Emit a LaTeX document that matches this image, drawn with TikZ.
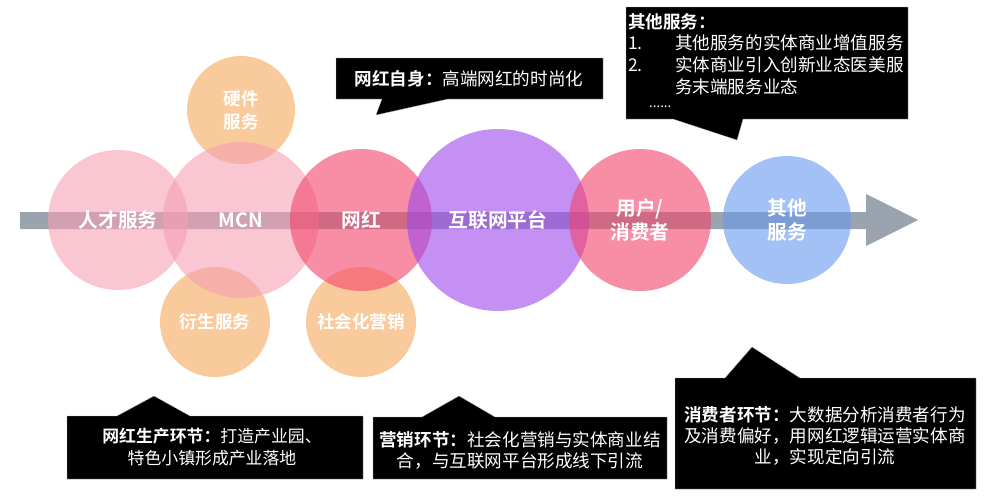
\documentclass[tikz,border=0pt]{standalone}
\usepackage{fontspec}
\setmainfont{Noto Sans CJK SC}[BoldFont={Noto Sans CJK SC Bold}]
\definecolor{barC}{HTML}{9BA4AE}
\definecolor{pinkL}{HTML}{F5A0B4}
\definecolor{pinkM}{HTML}{F3446B}
\definecolor{purpleC}{HTML}{9D46EE}
\definecolor{blueC}{HTML}{6799ED}
\definecolor{orangeC}{HTML}{F5A85A}
\begin{document}
\begin{tikzpicture}[x=0.5mm,y=-0.5mm,
  ball/.style={circle, inner sep=0pt, minimum size=#1*1mm, fill opacity=0.6, text opacity=1,
    text=white, font=\bfseries\fontsize{28}{33}\selectfont, align=center},
  smallball/.style={ball=#1, font=\bfseries\fontsize{25}{33}\selectfont},
  callout/.style={fill=black, draw=gray!60, line width=0.4pt},
  ctext/.style={text=white, font=\fontsize{25}{30}\selectfont, align=center, inner sep=0pt},
  ltext/.style={text=white, font=\fontsize{25}{30}\selectfont, anchor=west, inner sep=0pt}]
\useasboundingbox (0,0) rectangle (1000,495);
\fill[white] (0,0) rectangle (1000,495);

% main arrow
\fill[barC] (20,212) -- (866,212) -- (866,194) -- (918,220) -- (866,246) -- (866,229) -- (20,229) -- cycle;

% circles
\node[smallball=54, fill=orangeC] (yingjian) at (241,110) {硬件\\服务};
\node[smallball=55, fill=orangeC] (yansheng) at (215,322) {衍生服务};
\node[smallball=55, fill=orangeC] (shehui) at (361,322) {社会化营销};
\node[ball=70, fill=pinkL] (rencai) at (118,220) {人才服务};
\node[ball=78, fill=pinkL] (mcn) at (241,220) {MCN};
\node[ball=71, fill=pinkM] (wanghong) at (361,220) {网红};
\node[ball=91, fill=purpleC] (hulian) at (498,220) {互联网平台};
\node[ball=71, fill=pinkM] (yonghu) at (640,220) {用户/\\消费者};
\node[ball=64, fill=blueC] (qita) at (787,220) {其他\\服务};

% callout: 网红自身
\filldraw[callout] (336,58) -- (603,58) -- (603,99) -- (448,99) -- (376,115) -- (382,99) -- (336,99) -- cycle;
\node[ctext] (tA) at (469,79) {\textbf{网红自身：}高端网红的时尚化};

% callout: 其他服务
\filldraw[callout] (626,7) -- (908,7) -- (908,119) -- (743,119) -- (737,140) -- (673,119) -- (626,119) -- cycle;
\node[ltext, font=\bfseries\fontsize{25}{30}\selectfont] (tB0) at (628,22) {其他服务：};
\node[ltext] (tB1n) at (628,43) {1.};
\node[ltext] (tB1) at (675,43) {其他服务的实体商业增值服务};
\node[ltext] (tB2n) at (628,65) {2.};
\node[ltext] (tB2) at (675,65) {实体商业引入创新业态医美服};
\node[ltext] (tB3) at (675,87) {务末端服务业态};
\node[ltext, font=\fontsize{19}{22}\selectfont] (tB4) at (649,107) {......};

% callout: 网红生产环节
\filldraw[callout] (67,416) -- (117,416) -- (154,396) -- (190,416) -- (363,416) -- (363,479) -- (67,479) -- cycle;
\node[ctext, font=\fontsize{24}{32}\selectfont] (tC) at (212,447) {\textbf{网红生产环节：}打造产业园、\\特色小镇形成产业落地};

% callout: 营销环节
\filldraw[callout] (373,417) -- (422,417) -- (459,396) -- (495,417) -- (667,417) -- (667,479) -- (373,479) -- cycle;
\node[ctext] (tD) at (520,450) {\textbf{营销环节：}社会化营销与实体商业结\\合，与互联网平台形成线下引流};

% callout: 消费者环节
\filldraw[callout] (675,378) -- (725,378) -- (752,347) -- (800,378) -- (976,378) -- (976,489) -- (675,489) -- cycle;
\node[ctext] (tE) at (825,436) {\textbf{消费者环节：}大数据分析消费者行为\\及消费偏好，用网红逻辑运营实体商\\业，实现定向引流};
\end{tikzpicture}
\end{document}
